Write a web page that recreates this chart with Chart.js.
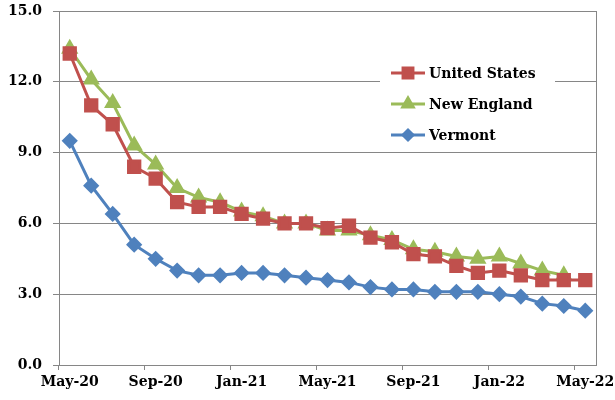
<!DOCTYPE html>
<html>
<head>
<meta charset="utf-8">
<script src="https://cdn.jsdelivr.net/npm/chart.js@4.4.1/dist/chart.umd.min.js"></script>
<style>
  html, body { margin: 0; padding: 0; background: #fff; }
  #wrap { width: 615px; height: 400px; }
</style>
</head>
<body>
<div id="wrap"><canvas id="rateChart"></canvas></div>
<script>
// monthly categories, May-20 .. May-22
const months = ['May-20', 'Jun-20', 'Jul-20', 'Aug-20', 'Sep-20', 'Oct-20', 'Nov-20', 'Dec-20',
    'Jan-21', 'Feb-21', 'Mar-21', 'Apr-21', 'May-21', 'Jun-21', 'Jul-21', 'Aug-21',
    'Sep-21', 'Oct-21', 'Nov-21', 'Dec-21', 'Jan-22', 'Feb-22', 'Mar-22', 'Apr-22', 'May-22'];

const unitedStates = [13.2, 11.0, 10.2, 8.4, 7.9, 6.9, 6.7, 6.7, 6.4, 6.2, 6.0, 6.0, 5.8,
    5.9, 5.4, 5.2, 4.7, 4.6, 4.2, 3.9, 4.0, 3.8, 3.6, 3.6, 3.6];
const newEngland = [13.4, 12.1, 11.1, 9.3, 8.5, 7.5, 7.1, 6.9, 6.5, 6.3, 6.0, 6.0, 5.7,
    5.7, 5.5, 5.3, 4.9, 4.8, 4.6, 4.5, 4.6, 4.3, 4.0, 3.8, null];
const vermont = [9.5, 7.6, 6.4, 5.1, 4.5, 4.0, 3.8, 3.8, 3.9, 3.9, 3.8, 3.7, 3.6,
    3.5, 3.3, 3.2, 3.2, 3.1, 3.1, 3.1, 3.0, 2.9, 2.6, 2.5, 2.3];

const yTicks = [0, 3, 6, 9, 12, 15];

const FONT = { family: "'DejaVu Serif', serif", weight: 'bold', size: 14 };
const GRID = '#868686';

// legend in the plot area plus right border of the plot
const boxLegend = {
    id: 'boxLegend',
    afterDraw(chart) {
        const ctx = chart.ctx;
        const xs = chart.scales.x;
        const ys = chart.scales.y;
        ctx.save();
        ctx.strokeStyle = GRID;
        ctx.lineWidth = 1;
        ctx.beginPath();
        ctx.moveTo(Math.round(xs.right) + 0.5, ys.top);
        ctx.lineTo(Math.round(xs.right) + 0.5, ys.bottom);
        ctx.stroke();

        ctx.fillStyle = '#fff';
        ctx.fillRect(380, 53, 175, 96);
        ctx.font = 'bold 14px "DejaVu Serif", serif';
        ctx.textBaseline = 'middle';
        chart.data.datasets.forEach(function(ds, i) {
            const y = 73 + i * 31;
            ctx.strokeStyle = ds.borderColor;
            ctx.lineWidth = 3;
            ctx.beginPath();
            ctx.moveTo(391, y);
            ctx.lineTo(425, y);
            ctx.stroke();
            ctx.fillStyle = ds.pointBackgroundColor;
            ctx.strokeStyle = ds.borderColor;
            Chart.helpers.drawPoint(ctx, {
                pointStyle: ds.pointStyle,
                radius: ds.pointRadius - 1,
                rotation: 0,
                borderWidth: 1
            }, 408, y);
            ctx.fillStyle = '#000';
            ctx.fillText(ds.label, 429, y + 1);
        });
        ctx.restore();
    }
};

const chart = new Chart(document.getElementById('rateChart'), {
    type: 'line',
    data: {
        labels: months,
        datasets: [{
            label: 'United States',
            data: unitedStates,
            borderColor: '#C0504D',
            backgroundColor: '#C0504D',
            pointBackgroundColor: '#C0504D',
            pointBorderColor: '#C0504D',
            pointStyle: 'rect',
            pointRadius: 8,
            borderWidth: 3
        }, {
            label: 'New England',
            data: newEngland,
            borderColor: '#9BBB59',
            backgroundColor: '#9BBB59',
            pointBackgroundColor: '#9BBB59',
            pointBorderColor: '#9BBB59',
            pointStyle: 'triangle',
            pointRadius: 7,
            borderWidth: 3
        }, {
            label: 'Vermont',
            data: vermont,
            borderColor: '#4F81BD',
            backgroundColor: '#4F81BD',
            pointBackgroundColor: '#4F81BD',
            pointBorderColor: '#4F81BD',
            pointStyle: 'rectRot',
            pointRadius: 6,
            borderWidth: 3
        }]
    },
    options: {
        responsive: true,
        maintainAspectRatio: false,
        animation: false,
        layout: {
            padding: { left: 0, top: 11, right: 0, bottom: 0 }
        },
        plugins: {
            legend: { display: false },
            tooltip: { enabled: false }
        },
        scales: {
            x: {
                offset: true,
                grid: {
                    display: true,
                    offset: true,
                    drawOnChartArea: false,
                    tickLength: 5,
                    color: function(c) {
                        return (c.index !== undefined && c.index % 4 === 0) ? GRID : 'rgba(0,0,0,0)';
                    }
                },
                border: { color: GRID },
                ticks: {
                    autoSkip: false,
                    maxRotation: 0,
                    padding: 4,
                    color: '#000',
                    font: FONT,
                    callback: function(v, i) {
                        return i % 4 === 0 ? months[i] : '';
                    }
                },
                afterFit: function(s) {
                    s.height = 35;
                    s.paddingLeft = 0;
                    s.paddingRight = 19;
                }
            },
            y: {
                min: 0,
                max: 15,
                afterBuildTicks: function(s) {
                    s.ticks = yTicks.map(function(v) { return { value: v }; });
                },
                grid: {
                    color: GRID,
                    tickLength: 6
                },
                border: { color: GRID },
                ticks: {
                    padding: 11,
                    color: '#000',
                    font: FONT,
                    callback: function(v) { return v.toFixed(1); }
                },
                afterFit: function(s) {
                    s.width = 59;
                    s.paddingTop = 0;
                    s.paddingBottom = 0;
                }
            }
        }
    },
    plugins: [boxLegend]
});
</script>
</body>
</html>
